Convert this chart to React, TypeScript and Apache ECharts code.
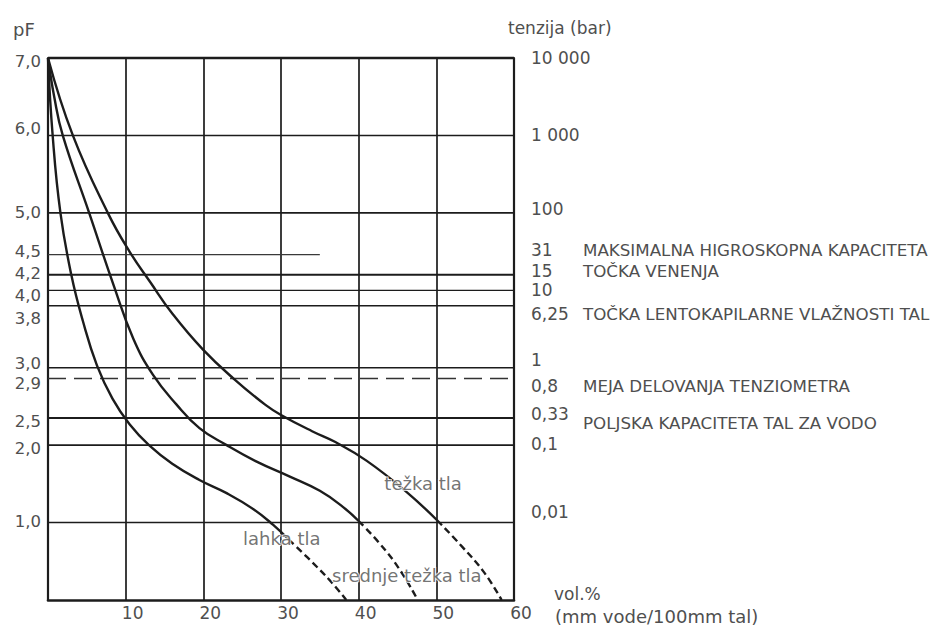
import React, { useEffect, useRef } from "react";
import * as echarts from "echarts";

const FONT = "'DejaVu Sans', sans-serif";
const TEXT = "#4f4f4f";
const INK = "#1c1c1c";

// x axis (vol.%)
const volMin = 0;
const volMax = 60;
const volStep = 10;

// pF axis
const pfMin = 0;
const pfMax = 7;

// left tick labels (pF) and where they sit
const pfTickPos = [6.96, 6.09, 5.01, 4.5, 4.22, 3.93, 3.63, 3.05, 2.8, 2.3, 1.96, 1.01];
const pfTickLabels = ["7,0", "6,0", "5,0", "4,5", "4,2", "4,0", "3,8", "3,0", "2,9", "2,5", "2,0", "1,0"];

// right tick labels (tension, bar)
const barTickPos = [7.0, 6.01, 5.05, 4.52, 4.25, 4.0, 3.7, 3.1, 2.76, 2.4, 2.02, 1.14];
const barTickLabels = ["10 000", "1 000", "100", "31", "15", "10", "6,25", "1", "0,8", "0,33", "0,1", "0,01"];
const barNotes = [
  "", "", "",
  "MAKSIMALNA HIGROSKOPNA KAPACITETA",
  "TOČKA VENENJA",
  "",
  "TOČKA LENTOKAPILARNE VLAŽNOSTI TAL",
  "",
  "MEJA DELOVANJA TENZIOMETRA",
  "", "", "",
];
const fieldCapNote = "POLJSKA KAPACITETA TAL ZA VODO";
const fieldCapNotePos = 2.28;

// horizontal reference lines (pF levels as drawn)
const fullLevels = [7.0, 6.0, 5.0, 4.2, 4.0, 3.8, 3.0, 2.35, 2.0, 1.0];
const hygroLevel = 4.46;
const hygroEndVol = 35;
const tensioLevel = 2.86;

// retention curves [vol.%, pF]
const lahkaSolid = [
  [0, 7.0], [0.6, 6.0], [1.6, 5.0], [3.0, 4.2], [4.5, 3.6], [6.3, 3.03], [8.3, 2.6],
  [10.5, 2.27], [13.0, 2.0], [16.0, 1.76], [19.5, 1.55], [23.0, 1.38], [26.5, 1.17],
  [29.0, 0.97], [31.0, 0.78],
];
const lahkaDashed = [[31.0, 0.78], [34.0, 0.49], [36.5, 0.23], [38.4, 0.0]];

const srednjeSolid = [
  [0, 7.0], [0.8, 6.5], [1.9, 6.0], [5.3, 5.0], [8.5, 4.05], [11.0, 3.37], [13.5, 2.91],
  [16.5, 2.53], [19.5, 2.22], [23.0, 2.0], [27.0, 1.78], [31.0, 1.6], [35.0, 1.41],
  [38.0, 1.2], [40.0, 1.02],
];
const srednjeDashed = [[40.0, 1.02], [42.7, 0.73], [45.3, 0.39], [47.6, 0.0]];

const tezkaSolid = [
  [0, 7.0], [3.2, 6.0], [7.7, 5.0], [10.5, 4.5], [13.2, 4.1], [16.0, 3.7], [19.9, 3.24],
  [24.0, 2.85], [28.0, 2.52], [30.0, 2.39], [34.0, 2.18], [37.0, 2.04], [41.0, 1.8],
  [46.0, 1.41], [50.1, 1.03],
];
const tezkaDashed = [[50.1, 1.03], [53.4, 0.68], [56.2, 0.35], [58.4, 0.0]];

// curve names and where they are written
const curveNames = ["težka tla", "lahka tla", "srednje težka tla"];
const curveNameVol = [48.3, 30.1, 46.2];
const curveNamePF = [1.5, 0.8, 0.32];

export default function App() {
  const ref = useRef<HTMLDivElement>(null);

  useEffect(() => {
    if (!ref.current) return;
    const chart = echarts.init(ref.current, null, { renderer: "svg" });
    const near = (a: number, b: number) => Math.abs(a - b) < 1e-6;

    const hLine = (y: number, x2: number, width: number, color: string, type: any = "solid") => ({
      type: "line",
      data: [[volMin, y], [x2, y]],
      symbol: "none",
      silent: true,
      clip: false,
      z: 1,
      lineStyle: { color, width, type },
    });

    const series: any[] = [];
    fullLevels.forEach((l) => {
      let w = 1.6;
      if (l === 7.0) w = 2.6;
      else if (l === 4.2 || l === 2.35) w = 2.1;
      else if (l === 4.0) w = 1.3;
      series.push(hLine(l, volMax, w, INK));
    });
    series.push(hLine(hygroLevel, hygroEndVol, 1.3, "#3a3a3a"));
    series.push(hLine(tensioLevel, volMax, 1.6, "#333333", [18, 8]));

    const curve = (data: number[][], dashed: boolean) => ({
      type: "line",
      data,
      symbol: "none",
      smooth: 0.45,
      clip: false,
      silent: true,
      z: 3,
      lineStyle: { color: INK, width: 2.4, type: dashed ? [7, 4] : "solid" },
    });
    series.push(curve(lahkaSolid, false), curve(lahkaDashed, true));
    series.push(curve(srednjeSolid, false), curve(srednjeDashed, true));
    series.push(curve(tezkaSolid, false), curve(tezkaDashed, true));

    series.push({
      type: "scatter",
      symbolSize: 0,
      silent: true,
      z: 5,
      data: curveNames.map((n, i) => ({ name: n, value: [curveNameVol[i], curveNamePF[i]] })),
      label: {
        show: true,
        position: "inside",
        formatter: "{b}",
        fontFamily: FONT,
        fontSize: 18,
        color: TEXT,
        textBorderColor: "#ffffff",
        textBorderWidth: 2,
      },
    });

    const rightValues = [...barTickPos, fieldCapNotePos];
    const tok = { fontFamily: FONT, color: TEXT, lineHeight: 16 };

    const option: any = {
      animation: false,
      backgroundColor: "#ffffff",
      grid: { left: 48, right: 422, top: 58, bottom: 30 },
      xAxis: {
        type: "value",
        min: volMin,
        max: volMax,
        interval: volStep,
        axisLine: { show: true, onZero: false, lineStyle: { color: INK, width: 2.6 } },
        axisTick: { show: false },
        splitLine: { show: true, lineStyle: { color: INK, width: 1.7 } },
        axisLabel: {
          showMaxLabel: true,
          formatter: (v: number) => (v === volMin ? "" : String(v)),
          fontFamily: FONT,
          fontSize: 17,
          color: TEXT,
          margin: 4,
          padding: [0, 0, 0, 14],
        },
      },
      yAxis: [
        {
          type: "value",
          min: pfMin,
          max: pfMax,
          position: "left",
          axisLine: { show: true, onZero: false, lineStyle: { color: INK, width: 2.2 } },
          axisTick: { show: false },
          splitLine: { show: false },
          axisLabel: {
            customValues: pfTickPos,
            formatter: (v: number) => {
              const i = pfTickPos.findIndex((p) => near(p, v));
              return i >= 0 ? pfTickLabels[i] : "";
            },
            fontFamily: FONT,
            fontSize: 16.5,
            lineHeight: 15,
            color: TEXT,
            margin: 7,
          },
        },
        {
          type: "value",
          min: pfMin,
          max: pfMax,
          position: "right",
          axisLine: { show: true, onZero: false, lineStyle: { color: INK, width: 2.2 } },
          axisTick: { show: false },
          splitLine: { show: false },
          axisLabel: {
            customValues: rightValues,
            margin: 17,
            fontFamily: FONT,
            fontSize: 17,
            lineHeight: 16,
            color: TEXT,
            align: "left",
            formatter: (v: number) => {
              if (near(v, fieldCapNotePos)) return `{p|${fieldCapNote}}`;
              const i = barTickPos.findIndex((p) => near(p, v));
              if (i < 0) return "";
              const note = barNotes[i];
              if (!note) return `{v|${barTickLabels[i]}}`;
              return `{n|${barTickLabels[i]}}{d|${note}}`;
            },
            rich: {
              v: { ...tok, fontSize: 17 },
              n: { ...tok, fontSize: 17, width: 52 },
              d: { ...tok, fontSize: 16.7 },
              p: { ...tok, fontSize: 16.7, padding: [0, 0, 0, 52] },
            },
          },
        },
      ],
      graphic: [
        { type: "text", x: 13, y: 29, style: { text: "pF", fontFamily: FONT, fontSize: 18, fill: TEXT, verticalAlign: "middle" } },
        { type: "text", x: 508, y: 28, style: { text: "tenzija (bar)", fontFamily: FONT, fontSize: 17, fill: TEXT, verticalAlign: "middle" } },
        { type: "text", x: 554, y: 594, style: { text: "vol.%", fontFamily: FONT, fontSize: 17, fill: TEXT, verticalAlign: "middle" } },
        { type: "text", x: 555, y: 616, style: { text: "(mm vode/100mm tal)", fontFamily: FONT, fontSize: 18, fill: TEXT, verticalAlign: "middle" } },
      ],
      series,
    };

    chart.setOption(option);
    return () => chart.dispose();
  }, []);

  return (
    <div
      ref={ref}
      style={{ position: "fixed", left: 0, top: 0, width: 936, height: 630, background: "#ffffff" }}
    />
  );
}
